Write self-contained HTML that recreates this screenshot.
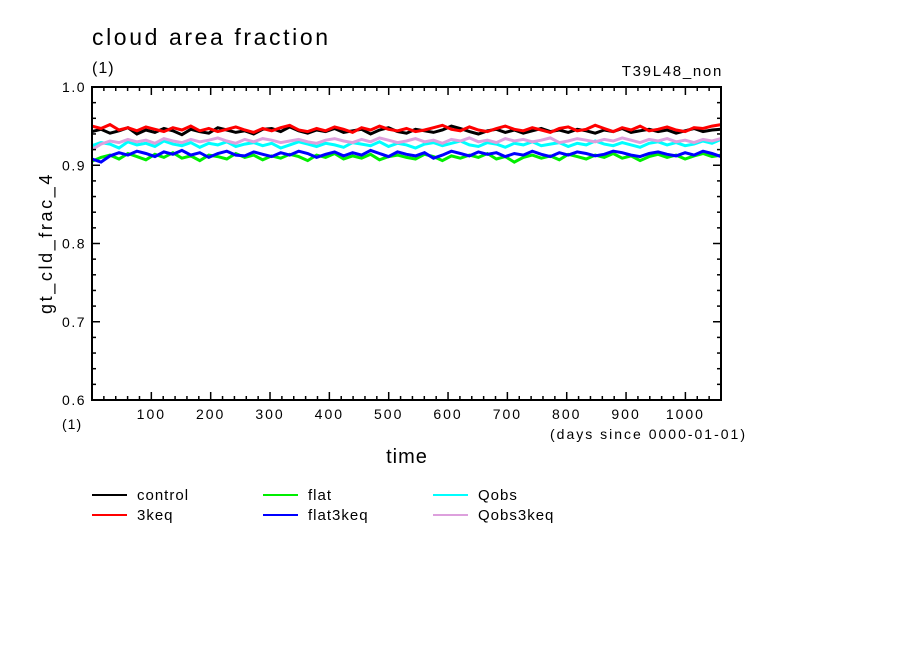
<!DOCTYPE html>
<html><head><meta charset="utf-8"><style>
body{margin:0;background:#fff;}
svg text{font-family:"Liberation Sans",sans-serif;fill:#000;}
</style></head><body>
<svg id="chart" width="904" height="654" xmlns="http://www.w3.org/2000/svg">
<rect width="904" height="654" fill="#fff"/>
<text x="92" y="45" font-size="23" letter-spacing="2.6">cloud area fraction</text>
<text x="92" y="73" font-size="16" letter-spacing="1">(1)</text>
<text x="723" y="76" font-size="15" letter-spacing="1.7" text-anchor="end">T39L48_non</text>
<g id="plot"></g>
<text transform="translate(52,243) rotate(-90)" font-size="18" letter-spacing="2.6" text-anchor="middle">gt_cld_frac_4</text>
<text x="62" y="429" font-size="14" letter-spacing="1">(1)</text>
<text x="747" y="439" font-size="14" letter-spacing="2" text-anchor="end">(days since 0000-01-01)</text>
<text x="407" y="463" font-size="20" letter-spacing="1" text-anchor="middle">time</text>
<g id="legend"></g>
</svg>
<script>
const seriesNames=["control","3keq","flat","flat3keq","Qobs","Qobs3keq"];
const seriesColors=["#000000","#ff0000","#00ee00","#0000ff","#00ffff","#dda0dd"];
const control=[943,946,941,944,948,940,945,942,947,944,939,946,943,941,948,945,942,944,940,946,947,943,949,944,941,945,943,947,942,944,946,940,945,948,943,941,946,944,942,945,950,947,943,940,944,946,942,945,941,944,947,943,945,942,946,944,941,945,943,947,942,944,946,943,945,941,944,947,943,945,946];
const keq3=[950,947,952,945,948,944,949,946,943,948,945,950,944,947,943,946,949,945,942,947,944,948,951,945,943,947,944,949,946,942,948,945,950,946,944,947,943,945,948,951,946,944,949,945,943,947,950,946,944,948,945,942,947,949,944,946,951,947,943,948,945,950,944,946,949,945,943,948,947,950,952];
const flat=[905,910,913,908,915,911,907,914,910,916,909,912,906,913,911,908,915,910,913,907,912,909,914,911,906,913,910,915,908,912,909,914,907,911,913,910,908,914,911,906,912,909,913,910,915,908,911,904,910,913,909,912,907,914,911,908,913,910,915,909,912,906,911,914,910,913,908,912,915,911,913];
const flat3keq=[908,904,912,916,913,918,915,911,917,914,919,913,916,910,915,918,913,912,917,914,911,916,913,918,915,910,914,917,912,916,913,919,915,911,917,914,912,916,909,913,918,915,912,917,914,916,911,915,913,918,914,911,916,913,917,915,912,914,918,916,913,911,915,917,914,912,916,913,918,915,911];
const qobs=[925,929,927,922,930,926,928,924,931,927,925,929,923,928,926,930,924,927,929,925,928,922,926,930,927,924,928,926,923,929,927,925,930,924,928,926,922,927,929,925,928,931,926,924,929,927,923,928,926,930,925,927,929,924,928,926,931,927,925,929,926,923,928,930,926,929,925,927,931,928,933];
const qobs3keq=[920,927,931,929,933,930,932,928,934,931,929,933,930,932,935,931,928,933,930,934,932,929,931,933,930,928,932,934,931,929,933,930,935,932,929,931,934,930,932,928,933,931,935,930,932,929,934,931,933,930,932,935,929,931,934,932,930,933,931,935,932,929,933,931,934,930,932,929,933,931,934];
const xTicks=[100,200,300,400,500,600,700,800,900,1000];
const yTicks=[0.6,0.7,0.8,0.9,1.0];
const allSeries=[control,keq3,flat,flat3keq,qobs,qobs3keq];
const X0=92,X1=721,Y0=400,Y1=87,XMIN=0,XMAX=1060,YMIN=0.6,YMAX=1.0;
const sx=d=>X0+(d-XMIN)/(XMAX-XMIN)*(X1-X0);
const sy=v=>Y0-(v-YMIN)/(YMAX-YMIN)*(Y0-Y1);
const NS="http://www.w3.org/2000/svg";
const plot=document.getElementById('plot');
function mk(tag,attrs,parent){const e=document.createElementNS(NS,tag);for(const k in attrs)e.setAttribute(k,attrs[k]);parent.appendChild(e);return e;}
allSeries.forEach((s,si)=>{
  const n=s.length;
  const pts=s.map((v,i)=>sx(XMIN+i*(XMAX-XMIN)/(n-1)).toFixed(1)+','+sy(v/1000).toFixed(1)).join(' ');
  const pl=mk('polyline',{points:pts,fill:'none',stroke:seriesColors[si],'stroke-width':3,'stroke-linejoin':'miter'},plot);
  
  
});
const fr=mk('rect',{x:X0,y:Y1,width:X1-X0,height:Y0-Y1,fill:'none',stroke:'#000','stroke-width':2},plot);


for(let d=20;d<XMAX;d+=20){
  const major=d%100===0,L=major?8:4,x=sx(d);
  mk('line',{x1:x,x2:x,y1:Y0,y2:Y0-L,stroke:'#000','stroke-width':1.5},plot);
  mk('line',{x1:x,x2:x,y1:Y1,y2:Y1+L,stroke:'#000','stroke-width':1.5},plot);
}
xTicks.forEach(d=>{
  const t=mk('text',{x:sx(d),y:419,'font-size':14,'letter-spacing':2,'text-anchor':'middle'},plot);
  t.textContent=d;
  
  
});
for(let v=0.62;v<0.999;v+=0.02){
  const major=Math.abs(v*10-Math.round(v*10))<0.01,L=major?8:4,y=sy(v);
  mk('line',{x1:X0,x2:X0+L,y1:y,y2:y,stroke:'#000','stroke-width':1.5},plot);
  mk('line',{x1:X1,x2:X1-L,y1:y,y2:y,stroke:'#000','stroke-width':1.5},plot);
}
yTicks.forEach(v=>{
  const t=mk('text',{x:86,y:sy(v)+5,'font-size':14,'letter-spacing':1.5,'text-anchor':'end'},plot);
  t.textContent=v.toFixed(1);
  
  
});
const leg=document.getElementById('legend');
const legX=[92,92,263,263,433,433],legY=[495,515,495,515,495,515];
seriesNames.forEach((nm,i)=>{
  const g=mk('g',{},leg);
  
  
  mk('line',{x1:legX[i],x2:legX[i]+35,y1:legY[i],y2:legY[i],stroke:seriesColors[i],'stroke-width':2},g);
  const t=mk('text',{x:legX[i]+45,y:legY[i]+5,'font-size':15,'letter-spacing':1},g);
  t.textContent=nm;
});
</script>
</body></html>
